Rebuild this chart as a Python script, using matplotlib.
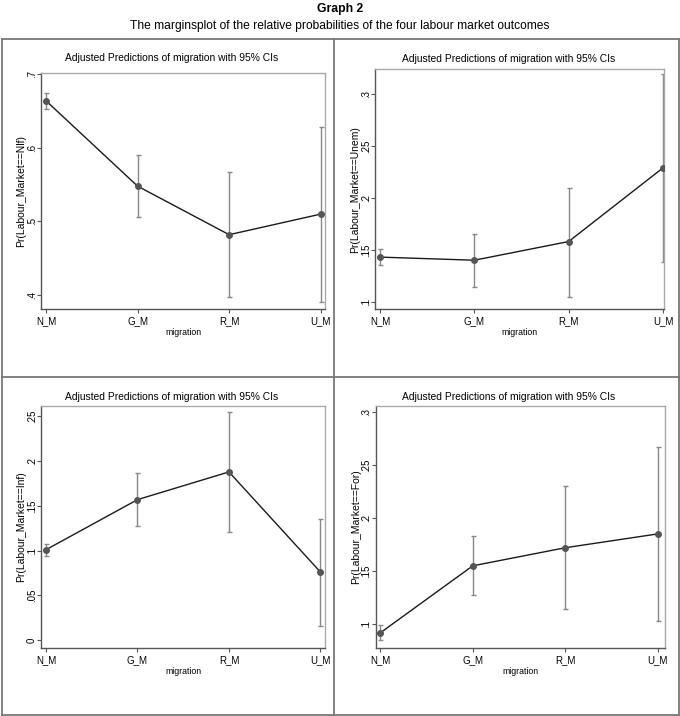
import matplotlib
matplotlib.use("Agg")
import matplotlib.pyplot as plt
from matplotlib.lines import Line2D

categories = ["N_M", "G_M", "R_M", "U_M"]

nlf_est = [0.664, 0.548, 0.482, 0.510]
nlf_lo = [0.653, 0.506, 0.397, 0.391]
nlf_hi = [0.674, 0.590, 0.567, 0.629]

unem_est = [0.143, 0.140, 0.158, 0.229]
unem_lo = [0.135, 0.114, 0.1045, 0.138]
unem_hi = [0.151, 0.165, 0.210, 0.319]

inf_est = [0.101, 0.157, 0.188, 0.076]
inf_lo = [0.094, 0.128, 0.121, 0.016]
inf_hi = [0.1075, 0.187, 0.255, 0.135]

for_est = [0.092, 0.155, 0.172, 0.185]
for_lo = [0.085, 0.128, 0.114, 0.103]
for_hi = [0.099, 0.183, 0.230, 0.267]

nlf_ticks = [0.4, 0.5, 0.6, 0.7]
nlf_ticklabels = [".4", ".5", ".6", ".7"]
unem_ticks = [0.1, 0.15, 0.2, 0.25, 0.3]
unem_ticklabels = [".1", ".15", ".2", ".25", ".3"]
inf_ticks = [0, 0.05, 0.1, 0.15, 0.2, 0.25]
inf_ticklabels = ["0", ".05", ".1", ".15", ".2", ".25"]
for_ticks = [0.1, 0.15, 0.2, 0.25, 0.3]
for_ticklabels = [".1", ".15", ".2", ".25", ".3"]

panel_title = "Adjusted Predictions of migration with 95% CIs"
ylabels = ["Pr(Labour_Market==Nlf)", "Pr(Labour_Market==Unem)",
           "Pr(Labour_Market==Inf)", "Pr(Labour_Market==For)"]
main_title = "Graph 2"
subtitle = "The marginsplot of the relative probabilities of the four labour market outcomes"

W, H = 680, 716
plt.rcParams['font.family'] = ['Liberation Sans', 'DejaVu Sans']
fig = plt.figure(figsize=(W / 100, H / 100), dpi=100)

def ax_at(left, top, right, bottom):
    return fig.add_axes([left / W, (H - bottom) / H, (right - left) / W, (bottom - top) / H])

# axes box, title centre (x px, y px)
panels = [
    (ax_at(41, 73.3, 325, 309), nlf_est, nlf_lo, nlf_hi, nlf_ticks, nlf_ticklabels,
     (0.381, 0.7014), (0.945, 4.047), (172, 58.3)),
    (ax_at(375, 69.3, 664.3, 309.3), unem_est, unem_lo, unem_hi, unem_ticks, unem_ticklabels,
     (0.0927, 0.324), (0.947, 4.014), (509, 58.8)),
    (ax_at(41, 405.5, 325, 648.3), inf_est, inf_lo, inf_hi, inf_ticks, inf_ticklabels,
     (-0.0093, 0.2623), (0.945, 4.05), (172, 396.7)),
    (ax_at(375.7, 405.7, 665, 647.7), for_est, for_lo, for_hi, for_ticks, for_ticklabels,
     (0.078, 0.3056), (0.95, 4.08), (509, 396.7)),
]

xpos = list(range(1, len(categories) + 1))
axes = []
for i, (ax, est, lo, hi, yt, ytl, ylim, xlim, tpos) in enumerate(panels):
    axes.append(ax)
    yerr = [[e - l for e, l in zip(est, lo)], [h - e for e, h in zip(est, hi)]]
    ax.errorbar(xpos, est, yerr=yerr, fmt='none', ecolor='#888888', elinewidth=1.0,
                capsize=1.8, capthick=1.0, zorder=2)
    ax.plot(xpos, est, color='#1a1a1a', lw=1.0, zorder=3)
    ax.plot(xpos, est, 'o', color='#555555', ms=4, zorder=4)
    ax.set_xlim(*xlim)
    ax.set_ylim(*ylim)
    ax.set_xticks(xpos)
    ax.set_xticklabels(categories, fontsize=7)
    ax.set_yticks(yt)
    ax.set_yticklabels(ytl, fontsize=7, rotation=90, va='center')
    ax.tick_params(axis='x', direction='out', length=3, width=0.8, color='#555555', pad=2)
    ax.tick_params(axis='y', direction='out', length=3, width=0.8, color='#555555', pad=0)
    ax.set_xlabel("migration", fontsize=6.3, labelpad=1.5)
    ax.set_ylabel(ylabels[i], fontsize=7.5)
    fig.text(tpos[0] / W, 1 - tpos[1] / H, panel_title, ha='center', va='center', fontsize=7.4)
    for s in ['left', 'bottom']:
        ax.spines[s].set_color('#555555')
        ax.spines[s].set_linewidth(1.0)
    for s in ['top', 'right']:
        ax.spines[s].set_color('#aaaaaa')
        ax.spines[s].set_linewidth(1.0)

# place each y label just left of its tick labels
fig.canvas.draw()
renderer = fig.canvas.get_renderer()
for ax in axes:
    x0 = min(t.get_window_extent(renderer).x0 for t in ax.get_yticklabels())
    xa = ax.transAxes.inverted().transform((x0 - 0.8, 0))[0]
    ax.yaxis.set_label_coords(xa, 0.5)

fig.text(0.5, 1 - 9 / H, main_title, ha='center', va='center', fontsize=8.8, fontweight='bold')
fig.text(0.5, 1 - 26 / H, subtitle, ha='center', va='center', fontsize=8.65)

def hline(y, x0, x1):
    fig.add_artist(Line2D([x0 / W, x1 / W], [1 - y / H, 1 - y / H], color='#777777', lw=1.3))

def vline(x, y0, y1):
    fig.add_artist(Line2D([x / W, x / W], [1 - y0 / H, 1 - y1 / H], color='#777777', lw=1.3))

hline(39, 2, 678.5)
hline(377, 2, 678.5)
hline(715, 2, 678.5)
vline(2, 39, 715)
vline(334, 39, 715)
vline(678.5, 39, 715)

fig.savefig("out.png", dpi=100, facecolor='white')
